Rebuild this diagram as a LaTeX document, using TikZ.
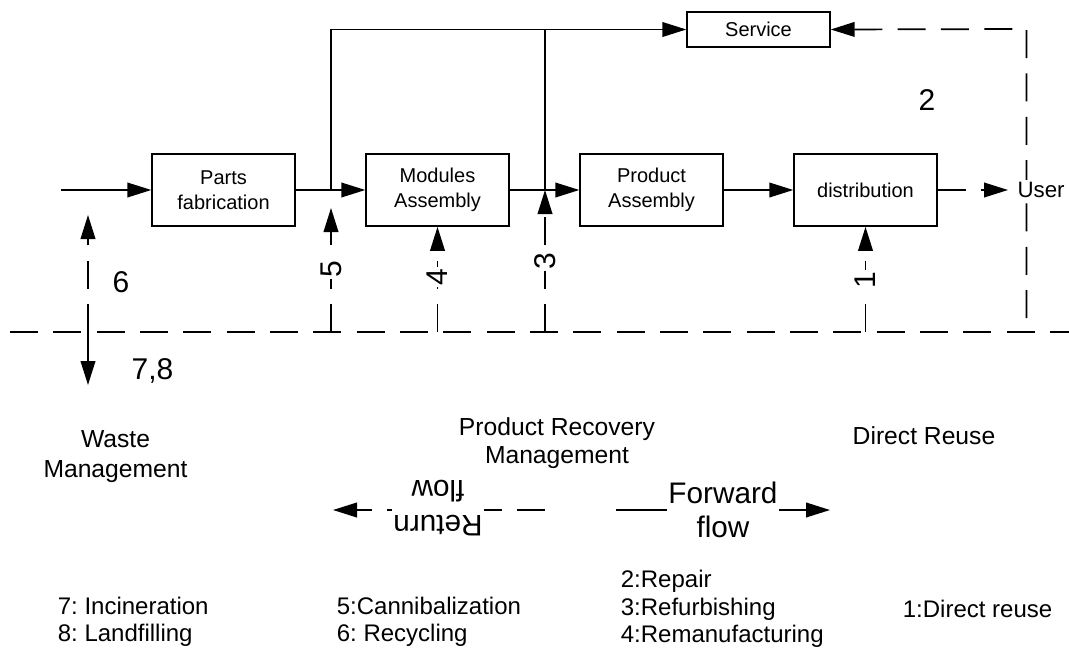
\documentclass[tikz,border=0pt]{standalone}
\usepackage{fontspec}
\setmainfont{Liberation Sans}
\usetikzlibrary{arrows.meta}

\begin{document}
\frenchspacing
\begin{tikzpicture}[x=0.75pt,y=-0.75pt,
  line width=1.3pt,
  >={Triangle[length=18pt,width=11pt]},
  box/.style={draw, minimum width=107pt, minimum height=54pt, inner sep=0pt,
    align=center, font=\fontsize{15}{18.5}\selectfont},
  dsh/.style={dash pattern=on 21pt off 11.5pt},
  numlbl/.style={font=\fontsize{22.5}{22.5}\selectfont, inner sep=1pt},
  vlbl/.style={numlbl, rotate=90, fill=white},
  midlbl/.style={font=\fontsize{18.5}{21}\selectfont, align=center},
  listlbl/.style={font=\fontsize{18}{20.5}\selectfont, align=left, anchor=west, inner sep=0pt},
  flowlbl/.style={font=\fontsize{22.3}{26}\selectfont, align=center, fill=white, inner sep=1pt}
]
\useasboundingbox (0,0) rectangle (1069,667);

% process chain
\node[box] (parts)   at (223.5,190) {Parts\\fabrication};
\node[box] (modules) at (437.5,190) {Modules\\Assembly};
\node[box] (product) at (651.5,190) {Product\\Assembly};
\node[box] (dist)    at (865.5,190) {distribution};
\node[box, minimum height=26.5pt] (service) at (758.5,29.5) {Service};

% helper points
\coordinate (in) at (61,190);
\coordinate (j5) at (331,190);
\coordinate (j3) at (545,190);
\coordinate (t3) at (545,29);
\coordinate (rc) at (1026.5,29);
\coordinate (rb) at (1026.5,332);
\coordinate (hl) at (0,332);
\coordinate (hr) at (1069,332);
\coordinate (b6) at (88,332);
\coordinate (u6) at (88,215);
\coordinate (d6) at (88,385);
\coordinate (b5) at (331,332);
\coordinate (u5) at (331,208);
\coordinate (b4) at (437.5,332);
\coordinate (b3) at (545,332);
\coordinate (b1) at (865.5,332);
\coordinate (ut) at (1008,190);

% forward flow through the chain
\draw[->] (in) -- (parts);
\draw[->] (parts) -- (modules);
\draw[->] (modules) -- (product);
\draw[->] (product) -- (dist);
\draw[->, dsh] (dist) -- (ut);

% branches to service
\draw[->] (j5) |- (service.west);
\draw (j3) -- (t3);
\draw[<-, dsh] (service.east) -- (rc) -- (rb);

% end customer, drawn over the return line
\node[font=\fontsize{16.7}{19}\selectfont, anchor=west, inner sep=2pt, fill=white] (user) at (1014,190) {User};

% separation line
\draw[dsh, dash phase=25pt] (hl) -- (hr);

% recovery flows
\draw[->, dsh] (b6) -- (u6);
\draw[->] (b6) -- (d6);
\draw[->, dsh] (b5) -- (u5);
\draw[->, dsh] (b4) -- (modules.south);
\draw[->, dsh] (b3) -- (j3);
\draw[->, dsh] (b1) -- (dist.south);

\node[vlbl] (l5) at (331,269) {5};
\node[vlbl] (l4) at (437.5,277) {4};
\node[vlbl] (l3) at (545,261) {3};
\node[vlbl] (l1) at (865.5,280) {1};

\node[numlbl] (n2) at (927,100) {2};
\node[numlbl] (n6) at (121,282) {6};
\node[numlbl] (n78) at (152.5,371) {7,8};

% areas
\node[midlbl, font=\fontsize{18.5}{22.5}\selectfont] (waste) at (115.5,457) {Waste\\Management};
\node[midlbl] (prm) at (557,443) {Product Recovery\\Management};
\node[midlbl] (reuse) at (924,436) {Direct Reuse};

% flow directions
\coordinate (rs) at (545,510);
\coordinate (re) at (333,510);
\draw[->, dsh] (rs) -- (re);
\node[flowlbl, rotate=180] (ret) at (438,508) {Return\\flow};
\coordinate (fs) at (616,510);
\coordinate (fe) at (830,510);
\draw[->] (fs) -- (fe);
\node[flowlbl] (fwd) at (723,510) {Forward\\flow};

% legend
\node[listlbl] (lg1) at (57,622) {7: Incineration\\8: Landfilling};
\node[listlbl] (lg2) at (336,622) {5:Cannibalization\\6: Recycling};
\node[listlbl] (lg3) at (620,609) {2:Repair\\3:Refurbishing\\4:Remanufacturing};
\node[listlbl] (lg4) at (902,609) {1:Direct reuse};
\end{tikzpicture}
\end{document}
